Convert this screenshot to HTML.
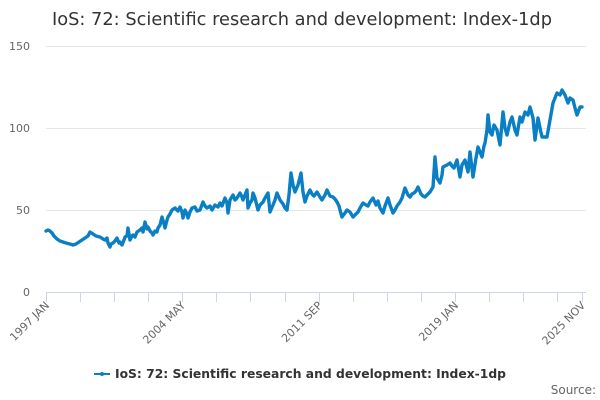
<!DOCTYPE html>
<html><head><meta charset="utf-8"><style>
html,body{margin:0;padding:0;background:#fff;}
svg{display:block;}
text{font-family:"DejaVu Sans","Liberation Sans",sans-serif;}
</style></head><body>
<svg width="600" height="400" viewBox="0 0 600 400" xmlns="http://www.w3.org/2000/svg">
<rect width="600" height="400" fill="#fff"/>
<text x="52" y="25" font-size="18" fill="#333" textLength="500" lengthAdjust="spacingAndGlyphs">IoS: 72: Scientific research and development: Index-1dp</text>
<g stroke="#e6e6e6" stroke-width="1">
<line x1="46" y1="46.5" x2="586" y2="46.5"/>
<line x1="46" y1="128.5" x2="586" y2="128.5"/>
<line x1="46" y1="210.5" x2="586" y2="210.5"/>
</g>
<g font-size="11" fill="#666" text-anchor="end">
<text x="30" y="50">150</text>
<text x="30" y="132">100</text>
<text x="30" y="214">50</text>
<text x="30" y="296">0</text>
</g>
<g stroke="#ccd6eb" stroke-width="1">
<line x1="46" y1="292.5" x2="586" y2="292.5"/>
<line x1="46.5" y1="292" x2="46.5" y2="302"/>
<line x1="80.5" y1="292" x2="80.5" y2="302"/>
<line x1="114.5" y1="292" x2="114.5" y2="302"/>
<line x1="148.5" y1="292" x2="148.5" y2="302"/>
<line x1="182.5" y1="292" x2="182.5" y2="302"/>
<line x1="216.5" y1="292" x2="216.5" y2="302"/>
<line x1="250.5" y1="292" x2="250.5" y2="302"/>
<line x1="285.5" y1="292" x2="285.5" y2="302"/>
<line x1="319.5" y1="292" x2="319.5" y2="302"/>
<line x1="353.5" y1="292" x2="353.5" y2="302"/>
<line x1="387.5" y1="292" x2="387.5" y2="302"/>
<line x1="421.5" y1="292" x2="421.5" y2="302"/>
<line x1="455.5" y1="292" x2="455.5" y2="302"/>
<line x1="489.5" y1="292" x2="489.5" y2="302"/>
<line x1="523.5" y1="292" x2="523.5" y2="302"/>
<line x1="557.5" y1="292" x2="557.5" y2="302"/>
<line x1="582.5" y1="292" x2="582.5" y2="302"/>
</g>
<g font-size="11" fill="#666" text-anchor="end">
<text transform="translate(50,306) rotate(-45)">1997 JAN</text>
<text transform="translate(186,306) rotate(-45)">2004 MAY</text>
<text transform="translate(323,306) rotate(-45)">2011 SEP</text>
<text transform="translate(459,306) rotate(-45)">2019 JAN</text>
<text transform="translate(586,306) rotate(-45)">2025 NOV</text>
</g>
<polyline fill="none" stroke="#0b7fc4" stroke-width="3.4" stroke-linejoin="round" stroke-linecap="round" points="46,231 48,230 50,231 52,233 54,236 57,239 60,241 63,242 66,243 70,244 73,245 76,244 79,242 82,240 85,238 88,236 90,232 93,234 96,236 100,237 103,239 105,240 107,238 108,243 110,247 111,244 113,243 115,241 117,238 119,243 120,242 122,245 124,240 125,237 127,236 128,228 130,240 132,236 133,235 135,237 137,232 140,230 142,228 143,232 145,222 147,229 148,227 150,231 152,233 153,235 155,231 157,232 158,228 160,225 162,217 164,224 165,228 167,220 168,217 170,214 172,210 175,208 178,211 180,207 182,212 183,218 185,210 187,214 188,218 190,212 192,208 195,207 197,211 200,210 203,202 205,206 207,208 210,206 212,210 215,205 218,207 220,203 222,206 225,198 227,203 228,213 230,200 233,195 235,200 237,198 240,193 242,197 243,200 245,195 247,190 248,208 250,203 252,200 253,193 255,198 258,210 260,205 263,202 265,198 268,193 270,212 273,205 275,200 277,193 280,200 283,204 285,208 287,210 289,195 291,173 293,185 295,192 298,185 301,173 303,192 305,202 307,196 310,190 312,194 314,196 317,192 320,197 322,200 325,195 327,190 330,196 333,197 335,199 337,202 339,206 340,210 342,217 345,213 347,210 350,212 353,217 355,215 358,212 360,208 363,203 366,205 368,206 370,202 373,198 376,205 378,201 380,208 383,213 385,206 388,198 390,205 393,213 395,210 397,206 400,202 402,198 405,188 408,195 410,197 412,194 414,193 416,191 418,187 421,194 423,196 425,197 427,195 430,192 433,187 435,157 437,178 440,183 442,175 443,167 447,165 450,163 452,166 454,168 457,160 460,177 462,165 465,160 468,172 470,152 473,177 476,158 478,147 480,152 482,157 484,146 485,143 487,130 488,115 490,132 492,135 494,125 497,130 500,145 503,112 505,128 507,135 510,122 512,117 515,130 517,135 520,117 522,122 525,112 528,115 530,107 533,118 535,140 538,118 540,128 542,137 545,137 547,137 550,120 553,103 555,98 557,93 560,95 562,90 565,95 568,103 570,98 573,100 575,108 577,115 580,107 582,107"/>
<line x1="94" y1="374" x2="110" y2="374" stroke="#0b7fc4" stroke-width="2"/>
<circle cx="102" cy="374" r="2" fill="#0b7fc4"/>
<text x="115" y="378" font-size="12" font-weight="bold" fill="#333" textLength="391" lengthAdjust="spacingAndGlyphs">IoS: 72: Scientific research and development: Index-1dp</text>
<text x="596" y="394" font-size="12" fill="#666" text-anchor="end">Source:</text>
</svg>
</body></html>
